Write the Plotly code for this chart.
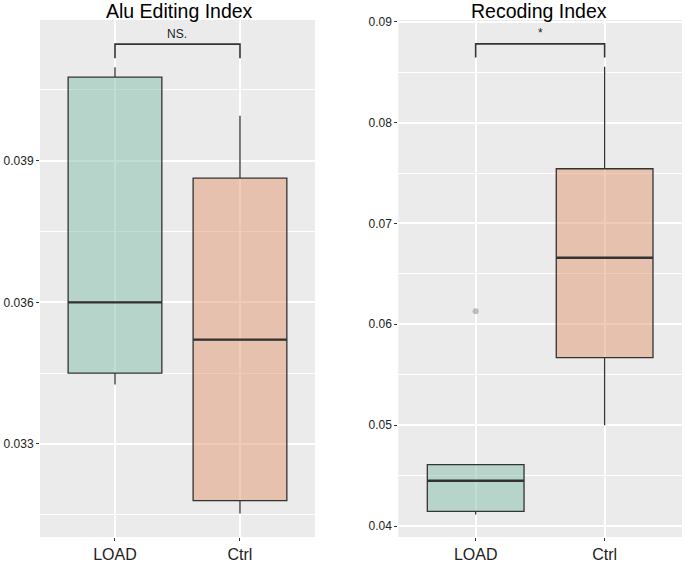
import plotly.graph_objects as go

groups = ["LOAD", "Ctrl"]

# Alu Editing Index box statistics (LOAD, Ctrl)
alu_q1 = [0.0345, 0.0318]
alu_median = [0.0360, 0.03521]
alu_q3 = [0.04077, 0.03863]
alu_low = [0.03426, 0.03153]
alu_high = [0.04098, 0.03995]
alu_sig_low = 0.04117
alu_sig_high = 0.04147
alu_label = "NS."

# Recoding Index box statistics (LOAD, Ctrl)
rec_q1 = [0.04145, 0.0567]
rec_median = [0.04449, 0.0666]
rec_q3 = [0.04608, 0.07542]
rec_low = [0.04113, 0.0500]
rec_high = [0.04608, 0.08554]
rec_outlier_x = ["LOAD"]
rec_outlier_y = [0.0613]
rec_sig_low = 0.08644
rec_sig_high = 0.0878
rec_label = "*"

box_width = 0.75
fills = ["rgba(131,189,169,0.5)", "rgba(225,151,113,0.5)"]
line_col = "#333333"
bg = "#EBEBEB"
font = "Liberation Sans, Arial, sans-serif"

fig = go.Figure()


def add_panel(q1, med, q3, lo, hi, xa, ya):
    for i, g in enumerate(groups):
        fig.add_trace(go.Box(
            x=[g], q1=[q1[i]], median=[med[i]], q3=[q3[i]],
            lowerfence=[lo[i]], upperfence=[hi[i]],
            fillcolor=fills[i], line=dict(color=line_col, width=1.3),
            whiskerwidth=0, width=box_width, boxpoints=False,
            showlegend=False, xaxis=xa, yaxis=ya, hoverinfo="skip"))
        # bolder median line (as in ggplot)
        fig.add_shape(type="line", xref=xa, yref=ya,
                      x0=i - box_width / 2, x1=i + box_width / 2,
                      y0=med[i], y1=med[i],
                      line=dict(color=line_col, width=2.4))


add_panel(alu_q1, alu_median, alu_q3, alu_low, alu_high, "x", "y")
add_panel(rec_q1, rec_median, rec_q3, rec_low, rec_high, "x2", "y2")

fig.add_trace(go.Scatter(
    x=rec_outlier_x, y=rec_outlier_y, mode="markers",
    marker=dict(color="rgba(140,140,140,0.55)", size=6),
    showlegend=False, xaxis="x2", yaxis="y2"))

# significance brackets
for lo, hi, xa, ya in [(alu_sig_low, alu_sig_high, "x", "y"),
                       (rec_sig_low, rec_sig_high, "x2", "y2")]:
    fig.add_trace(go.Scatter(
        x=[groups[0], groups[0], groups[1], groups[1]],
        y=[lo, hi, hi, lo], mode="lines",
        line=dict(color=line_col, width=1.6),
        showlegend=False, xaxis=xa, yaxis=ya, hoverinfo="skip"))

fig.add_annotation(x=0.5, y=alu_sig_high, xref="x", yref="y", text=alu_label,
                   showarrow=False, yanchor="bottom", yshift=1,
                   font=dict(size=12, color="#222", family=font))
fig.add_annotation(x=0.5, y=rec_sig_high, xref="x2", yref="y2", text=rec_label,
                   showarrow=False, yanchor="bottom", yshift=2,
                   font=dict(size=12, color="#222", family=font))

# titles
fig.add_annotation(x=0.218, y=1.0, xref="paper", yref="paper", xanchor="center",
                   text="Alu Editing Index", showarrow=False, yanchor="bottom",
                   yshift=-4, font=dict(size=19.5, color="black", family=font))
fig.add_annotation(x=0.777, y=1.0, xref="paper", yref="paper", xanchor="center",
                   text="Recoding Index", showarrow=False, yanchor="bottom",
                   yshift=-4, font=dict(size=19.5, color="black", family=font))

xcommon = dict(type="category", categoryorder="array", categoryarray=groups,
               range=[-0.6, 1.6], showgrid=True, gridcolor="white", gridwidth=1.6,
               ticks="outside", ticklen=3, tickcolor="#333", zeroline=False,
               automargin=False,
               tickfont=dict(size=16, color="#222", family=font), showline=False)
ycommon = dict(showgrid=True, gridcolor="white", gridwidth=1.6, zeroline=False,
               ticks="outside", ticklen=3, tickcolor="#333", automargin=False,
               tickfont=dict(size=12, color="#222", family=font), showline=False)

fig.update_layout(
    width=685, height=562,
    margin=dict(l=40, r=3, t=20, b=25, autoexpand=False),
    paper_bgcolor="white", plot_bgcolor=bg,
    xaxis=dict(domain=[0.0, 0.4283], anchor="y", **xcommon),
    yaxis=dict(domain=[0.0, 1.0], anchor="x", range=[0.03103, 0.04198],
               tick0=0.033, dtick=0.003, tickformat=".3f",
               minor=dict(dtick=0.0015, tick0=0.0315, showgrid=True,
                          gridcolor="white", gridwidth=0.7),
               **ycommon),
    xaxis2=dict(domain=[0.5581, 1.0], anchor="y2", **xcommon),
    yaxis2=dict(domain=[0.0, 1.0], anchor="x2", range=[0.03891, 0.09017],
                tick0=0.04, dtick=0.01, tickformat=".2f",
                minor=dict(dtick=0.005, tick0=0.035, showgrid=True,
                           gridcolor="white", gridwidth=0.7),
                **ycommon),
)

fig.write_html("out.html", config={"displayModeBar": False},
               post_script="document.body.style.margin='0';"
                           "document.body.style.overflow='hidden';")
